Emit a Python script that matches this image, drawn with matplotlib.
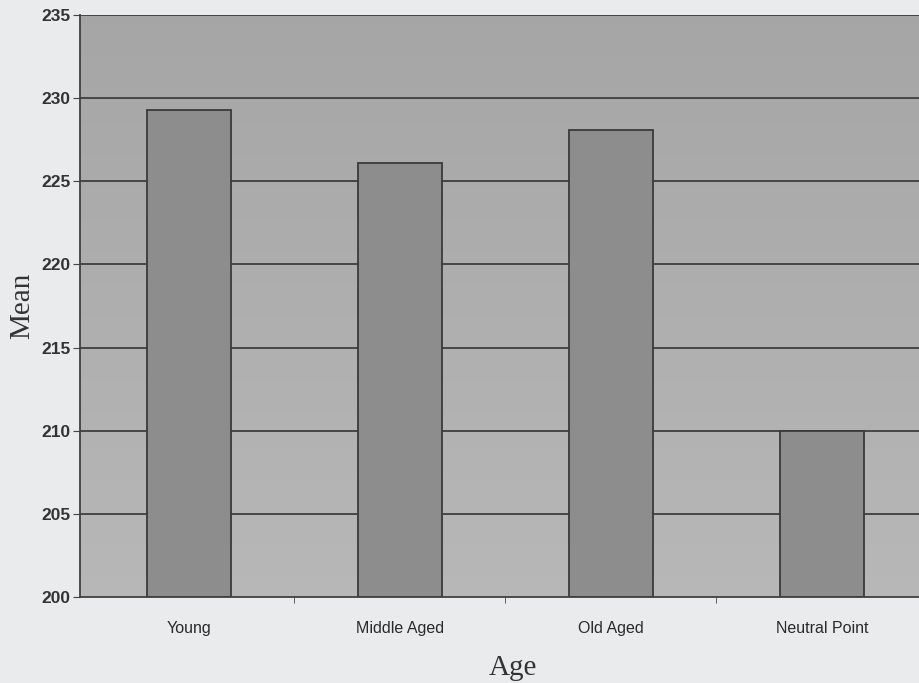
import numpy as np
import matplotlib.pyplot as plt

# mean score per age group
groups = ['Young', 'Middle Aged', 'Old Aged', 'Neutral Point']
means = [229.3, 226.1, 228.1, 210.0]
yticks = [200, 205, 210, 215, 220, 225, 230, 235]

fig = plt.figure(figsize=(9.2, 6.83), dpi=100)
fig.patch.set_facecolor('#e9ebec')
ax = fig.add_axes([0.087, 0.126, 0.913, 0.852])

xlo, xhi = -0.515, 3.465

# soft grey shading behind the bars, darker near the top
g = np.linspace(0.65, 0.72, 256)
shade = np.repeat(g[:, None, None], 3, axis=2)
ax.imshow(shade, aspect='auto', extent=(xlo, xhi, 200, 235), zorder=0)

ax.set_ylim(200, 235)
ax.set_xlim(xlo, xhi)
ax.set_yticks(yticks)
for y in yticks[1:]:
    ax.axhline(y, color='#353535', lw=1.2, zorder=1)

x = np.arange(len(groups))
ax.bar(x, [m - 200 for m in means], bottom=200, width=0.40,
       color='#8d8d8d', edgecolor='#3a3a3a', linewidth=1.3, zorder=2)

ax.set_xticks(x)
ax.set_xticklabels(groups, fontsize=11.5, family='Liberation Sans', color='#2a2a2a')
ax.set_xticks([0.5, 1.5, 2.5], minor=True)
ax.tick_params(axis='x', which='major', length=0, pad=17)
ax.tick_params(axis='x', which='minor', length=4, color='#444444')
ax.tick_params(axis='y', length=5, color='#444444', pad=2)
for lab in ax.get_yticklabels():
    lab.set_family('Liberation Sans')
    lab.set_fontsize(12.5)
    lab.set_fontweight('bold')
    lab.set_color('#333333')

for side in ['top', 'right']:
    ax.spines[side].set_visible(False)
for side in ['left', 'bottom']:
    ax.spines[side].set_color('#404040')
    ax.spines[side].set_linewidth(1.3)

ax.set_ylabel('Mean', family='Liberation Serif', fontsize=21, color='#333333', labelpad=4)
ax.set_xlabel('Age', family='Liberation Serif', fontsize=21, color='#333333')
ax.xaxis.set_label_coords(0.515, -0.1)

fig.savefig('out.png', dpi=100, facecolor=fig.get_facecolor())
